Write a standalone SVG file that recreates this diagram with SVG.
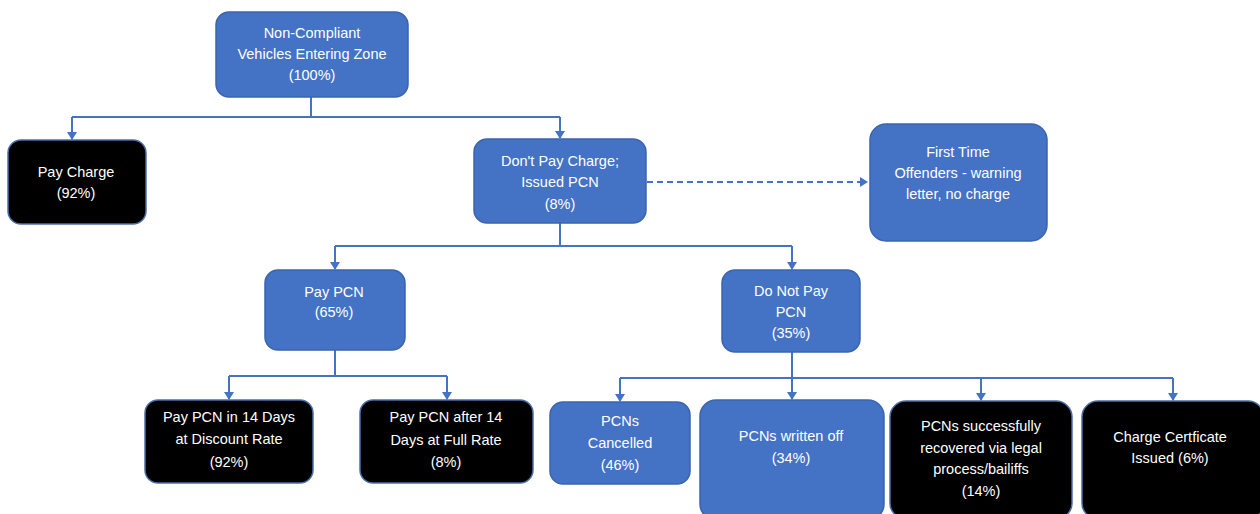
<svg xmlns="http://www.w3.org/2000/svg" width="1260" height="514" viewBox="0 0 1260 514">
<style>
.b{fill:#4472C4;stroke:#3A64AE;stroke-width:1.5}
.k{fill:#000;stroke:#4A6FA8;stroke-width:1.5}
text{font-family:"Liberation Sans",Arial,sans-serif;font-size:14.5px;fill:#fff;text-anchor:middle}
.c{fill:none;stroke:#4472C4;stroke-width:2}
</style>
<defs>
<marker id="ah" markerWidth="10" markerHeight="10" refX="7" refY="5" orient="auto" markerUnits="userSpaceOnUse">
<path d="M0,0 L8,5 L0,10 Z" fill="#4472C4"/>
</marker>
</defs>
<rect width="1260" height="514" fill="#fff"/>
<g id="connectors">
<path class="c" d="M311,97 V117 M72,117 H560"/>
<path class="c" d="M72,117 V139" marker-end="url(#ah)"/>
<path class="c" d="M560,117 V138" marker-end="url(#ah)"/>
<path class="c" d="M647,182 H867" stroke-dasharray="6,4" marker-end="url(#ah)"/>
<path class="c" d="M560,223 V246 M335,246 H792"/>
<path class="c" d="M335,246 V269" marker-end="url(#ah)"/>
<path class="c" d="M792,246 V269" marker-end="url(#ah)"/>
<path class="c" d="M335,350 V376 M229,376 H447"/>
<path class="c" d="M229,376 V399" marker-end="url(#ah)"/>
<path class="c" d="M447,376 V399" marker-end="url(#ah)"/>
<path class="c" d="M792,352 V378 M620,378 H1173"/>
<path class="c" d="M620,378 V401" marker-end="url(#ah)"/>
<path class="c" d="M792,378 V399" marker-end="url(#ah)"/>
<path class="c" d="M981,378 V400" marker-end="url(#ah)"/>
<path class="c" d="M1173,378 V400" marker-end="url(#ah)"/>
</g>
<g id="n-top">
<rect class="b" x="216" y="12" width="192" height="85" rx="13"/>
<text x="312" y="38">Non-Compliant</text>
<text x="312" y="59">Vehicles Entering Zone</text>
<text x="312" y="80">(100%)</text>
</g>
<g id="n-paycharge">
<rect class="k" x="8" y="140" width="138" height="84" rx="13"/>
<text x="76" y="177">Pay Charge</text>
<text x="76" y="198">(92%)</text>
</g>
<g id="n-dontpay">
<rect class="b" x="474" y="139" width="172" height="84" rx="13"/>
<text x="560" y="166">Don't Pay Charge;</text>
<text x="560" y="187">Issued PCN</text>
<text x="560" y="209">(8%)</text>
</g>
<g id="n-firsttime">
<rect class="b" x="870" y="124" width="177" height="117" rx="16"/>
<text x="958" y="157">First Time</text>
<text x="958" y="178">Offenders - warning</text>
<text x="958" y="199">letter, no charge</text>
</g>
<g id="n-paypcn">
<rect class="b" x="265" y="270" width="140" height="80" rx="13"/>
<text x="334" y="297">Pay PCN</text>
<text x="334" y="317">(65%)</text>
</g>
<g id="n-donotpay">
<rect class="b" x="722" y="270" width="138" height="82" rx="13"/>
<text x="791" y="296">Do Not Pay</text>
<text x="791" y="317">PCN</text>
<text x="791" y="338">(35%)</text>
</g>
<g id="n-pay14">
<rect class="k" x="145" y="400" width="168" height="83" rx="13"/>
<text x="229" y="422">Pay PCN in 14 Days</text>
<text x="229" y="444">at Discount Rate</text>
<text x="229" y="467">(92%)</text>
</g>
<g id="n-payafter">
<rect class="k" x="360" y="400" width="173" height="83" rx="13"/>
<text x="446" y="422">Pay PCN after 14</text>
<text x="446" y="445">Days at Full Rate</text>
<text x="446" y="467">(8%)</text>
</g>
<g id="n-cancelled">
<rect class="b" x="550" y="402" width="140" height="82" rx="13"/>
<text x="620" y="426">PCNs</text>
<text x="620" y="448">Cancelled</text>
<text x="620" y="470">(46%)</text>
</g>
<g id="n-writtenoff">
<rect class="b" x="700" y="400" width="184" height="120" rx="16"/>
<text x="791" y="441">PCNs written off</text>
<text x="791" y="463">(34%)</text>
</g>
<g id="n-recovered">
<rect class="k" x="890" y="401" width="182" height="118" rx="16"/>
<text x="981" y="431">PCNs successfully</text>
<text x="981" y="453">recovered via legal</text>
<text x="981" y="474">process/bailiffs</text>
<text x="981" y="496">(14%)</text>
</g>
<g id="n-chargecert">
<rect class="k" x="1082" y="401" width="182" height="118" rx="16"/>
<text x="1170" y="442">Charge Certficate</text>
<text x="1170" y="463">Issued (6%)</text>
</g>
</svg>
